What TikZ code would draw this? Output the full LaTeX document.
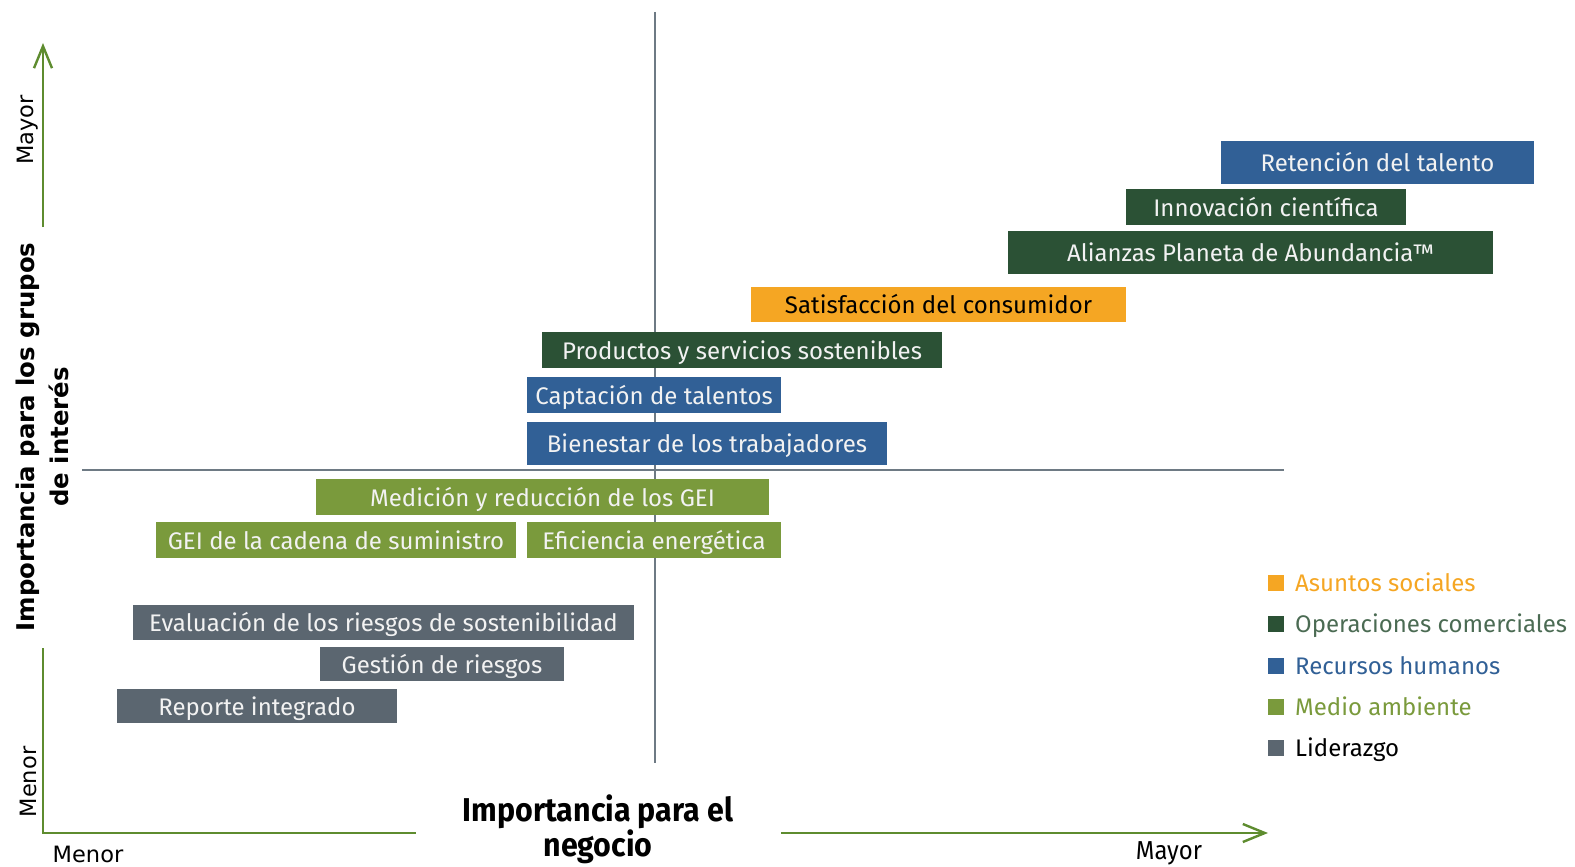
\documentclass[tikz,border=0pt]{standalone}
\usepackage{fontspec}
\setmainfont{Fira Sans}
\newfontfamily\dvfont{DejaVu Sans}
\newfontfamily\condfont[FakeStretch=0.92]{Fira Sans}
\usetikzlibrary{arrows.meta}
\definecolor{cblue}{HTML}{316096}
\definecolor{cdark}{HTML}{2B5135}
\definecolor{corange}{HTML}{F5A623}
\definecolor{cgreen}{HTML}{7A9A3C}
\definecolor{cgray}{HTML}{5B6670}
\definecolor{cline}{HTML}{6E7A84}
\definecolor{caxis}{HTML}{5E8C2F}
\definecolor{ctext}{HTML}{F2F2F2}
\begin{document}
\begin{tikzpicture}[x=1pt,y=-1pt,
  mbox/.style={rectangle, inner sep=0pt, text=ctext, text height=19pt, text depth=1pt, font=\fontsize{24}{28}\selectfont},
  legsq/.style={rectangle, inner sep=0pt, minimum width=16pt, minimum height=16pt},
  legtxt/.style={anchor=west, inner sep=0pt, text height=18.5pt, text depth=1.5pt, font=\fontsize{24}{28}\selectfont},
  axis/.style={draw=caxis, line width=1.5pt},
  axtip/.style={-{Straight Barb[length=22pt,width=18pt,line width=2.4pt]}},
  grid/.style={draw=cline, line width=1.2pt},
  axlab/.style={inner sep=0pt, font=\dvfont\fontsize{22.5}{26}\selectfont}
]
\useasboundingbox (0,0) rectangle (1575,867);
% quadrant lines
\coordinate (vt) at (655,12);
\coordinate (vb) at (655,763);
\coordinate (hl) at (82,470);
\coordinate (hr) at (1284,470);
\draw[grid] (vt) -- (vb);
\draw[grid] (hl) -- (hr);
% axes
\coordinate (yup0) at (43,227);
\coordinate (yup1) at (43,43);
\coordinate (ylo) at (43,648);
\coordinate (xl) at (416,833);
\coordinate (xr0) at (781,833);
\coordinate (xr1) at (1268,833);
\draw[axis, axtip] (yup0) -- (yup1);
\draw[axis] (ylo) |- (xl);
\draw[axis, axtip] (xr0) -- (xr1);
% axis labels
\node[axlab, rotate=90] (ymay) at (28,130) {Mayor};
\node[axlab, rotate=90] (ymen) at (28,782) {Menor};
\node[axlab] (xmen) at (88,854) {Menor};
\node[inner sep=0pt, font=\condfont\fontsize{26}{30}\selectfont] (xmay) at (1169,853) {Mayor};
\node[rotate=90, align=center, inner sep=0pt, font=\dvfont\bfseries\fontsize{24.4}{34}\selectfont] (ytitle) at (42,437) {Importancia para los grupos\\de interés};
\node[align=center, inner sep=0pt, font=\condfont\bfseries\fontsize{33}{35}\selectfont] (xtitle) at (598,829) {Importancia para el\\negocio};
% boxes
\node[mbox, fill=cblue, minimum width=313pt, minimum height=43pt] (ret) at (1377.5,162.5) {Retención del talento};
\node[mbox, fill=cdark, minimum width=280pt, minimum height=36pt] (inn) at (1266,207) {Innovación científica};
\node[mbox, fill=cdark, minimum width=485pt, minimum height=43pt] (ali) at (1250.5,252.5) {Alianzas Planeta de Abundancia™};
\node[mbox, fill=corange, text=black, minimum width=375pt, minimum height=35pt] (sat) at (938.5,304.5) {Satisfacción del consumidor};
\node[mbox, fill=cdark, minimum width=400pt, minimum height=36pt] (pro) at (742,350) {Productos y servicios sostenibles};
\node[mbox, fill=cblue, minimum width=254pt, minimum height=36pt] (cap) at (654,395) {Captación de talentos};
\node[mbox, fill=cblue, minimum width=360pt, minimum height=43pt] (bie) at (707,443.5) {Bienestar de los trabajadores};
\node[mbox, fill=cgreen, minimum width=453pt, minimum height=36pt] (med) at (542.5,497) {Medición y reducción de los GEI};
\node[mbox, fill=cgreen, minimum width=360pt, minimum height=36pt] (gei) at (336,540) {GEI de la cadena de suministro};
\node[mbox, fill=cgreen, minimum width=254pt, minimum height=36pt] (efi) at (654,540) {Eficiencia energética};
\node[mbox, fill=cgray, minimum width=501pt, minimum height=35pt] (eva) at (383.5,622.5) {Evaluación de los riesgos de sostenibilidad};
\node[mbox, fill=cgray, minimum width=244pt, minimum height=34pt] (ges) at (442,664) {Gestión de riesgos};
\node[mbox, fill=cgray, minimum width=280pt, minimum height=34pt] (rep) at (257,706) {Reporte integrado};
% legend
\node[legsq, fill=corange] (l1) at (1276,583) {};
\node[legsq, fill=cdark] (l2) at (1276,624) {};
\node[legsq, fill=cblue] (l3) at (1276,666) {};
\node[legsq, fill=cgreen] (l4) at (1276,707) {};
\node[legsq, fill=cgray] (l5) at (1276,748) {};
\node[legtxt, text=corange] (t1) at (1295,583) {Asuntos sociales};
\node[legtxt, text=cdark!85!white] (t2) at (1295,624) {Operaciones comerciales};
\node[legtxt, text=cblue] (t3) at (1295,666) {Recursos humanos};
\node[legtxt, text=cgreen] (t4) at (1295,707) {Medio ambiente};
\node[legtxt, text=black] (t5) at (1295,748) {Liderazgo};
\end{tikzpicture}
\end{document}
